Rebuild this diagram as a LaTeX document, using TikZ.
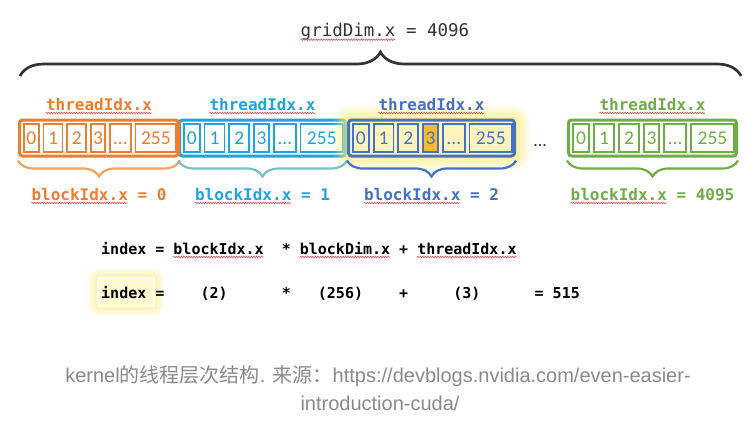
\documentclass[tikz,border=0pt]{standalone}
\usepackage{fontspec}
\usetikzlibrary{decorations.pathreplacing,decorations.pathmorphing}
\newfontfamily\mono{DejaVu Sans Mono}
\newfontfamily\cellfont{Carlito}
\newfontfamily\capfont{Liberation Sans}
\newfontfamily\cjk{Noto Sans CJK SC}
\definecolor{c0}{HTML}{ED7D31}
\definecolor{c0b}{HTML}{F3A35F}
\definecolor{c1}{HTML}{1EA4E0}
\definecolor{c1b}{HTML}{72C3C7}
\definecolor{c2}{HTML}{4472C4}
\definecolor{c3}{HTML}{70AD47}
\definecolor{hl}{HTML}{FBBA28}
\definecolor{pale}{HTML}{FFF4BC}
\definecolor{palehl}{HTML}{FFFAD2}
\definecolor{glow}{HTML}{FFEF70}
\definecolor{capc}{HTML}{8A8A8A}
\definecolor{ink}{HTML}{333333}
\definecolor{squigred}{HTML}{E0505A}
\tikzset{
  outerbox/.style={draw, line width=3pt, rounded corners=3pt, minimum height=36pt, inner sep=0pt},
  cell/.style={draw, line width=1.8pt, minimum height=28pt, inner sep=0pt, text height=12.5pt, text depth=0pt, font=\cellfont\fontsize{19.5}{21}\selectfont},
  lab/.style={inner sep=0pt, anchor=base, font=\mono\bfseries\fontsize{16}{18}\selectfont},
  eqline/.style={inner sep=0pt, anchor=base west, font=\mono\bfseries\fontsize{15}{18}\selectfont, text=black},
  squig/.style={draw=squigred, line width=0.6pt, decorate, decoration={snake, amplitude=0.8pt, segment length=2.5pt}},
  brc/.style={decorate, decoration={brace, amplitude=16pt, mirror}, line width=2.2pt},
  capt/.style={inner sep=0pt, anchor=base, text=capc, font=\capfont\fontsize{20}{24}\selectfont},
}
\newcommand\tblock[6]{%
  \pgfmathsetmacro\bL{#2}%
  \pgfmathsetmacro\bS{(#3-#2)/171}%
  \node[outerbox, draw=#4, fill=#5, minimum width={#3-#2-3}] (#1) at ({(#2+#3)/2},138) {};
  \foreach \sa/\ea/\lbl [count=\k] in {5/23/0,26/48/1,51/73/2,76/93/3,96/120/…,123/168/255}{%
    \ifnum\k=#6 \def\cf{hl}\else\def\cf{#5}\fi
    \node[cell, draw=#4, fill=\cf, text=#4, minimum width={(\ea-\sa)*\bS-1.8}] (#1c\k) at ({\bL+(\sa+\ea)/2*\bS},138) {\lbl};
  }%
}
\begin{document}
\begin{tikzpicture}[x=1pt, y=-1pt]
\useasboundingbox (0,0) rectangle (746,423);
\fill[white] (0,0) rectangle (746,423);
% grid brace and title
\coordinate (gL) at (20,76);
\coordinate (gR) at (741,76);
\draw[decorate, decoration={brace, amplitude=24pt}, line width=2.7pt, draw=ink] (gL) -- (gR);
\node[inner sep=0pt, anchor=base, text=ink, font=\mono\fontsize{17.5}{20}\selectfont] (title) at (385,36.7) {gridDim.x = 4096};
\draw[squig] ([yshift=-3pt]title.base west) -- ([yshift=-3pt, xshift=94.8pt]title.base west);
% blocks
\tblock{B1}{178}{347}{c1}{white}{0}
\tblock{B0}{18}{180}{c0}{white}{0}
\foreach \r/\o in {14/0.07,12/0.09,10/0.11,8/0.13,6/0.16,4/0.2,2/0.24}{
  \fill[glow, opacity=\o, rounded corners={\r+3}] ({347-\r},{119-\r}) rectangle ({516+\r},{157+\r});
}
\tblock{B2}{347}{516}{c2}{pale}{4}
\tblock{B3}{567}{738}{c3}{white}{0}
\node[inner sep=0pt, anchor=base, text=ink, font=\cellfont\fontsize{18}{20}\selectfont] (gap) at (540,146) {…};
% labels and braces
\coordinate (yT) at (0,110);
\coordinate (yB) at (0,200);
\foreach \b/\col/\bcol/\v in {B0/c0/c0b/0, B1/c1/c1b/1, B2/c2/c2/2, B3/c3/c3/4095}{
  \draw[brc, draw=\bcol] ([yshift=-3pt]\b.south west) -- ([yshift=-3pt]\b.south east);
  \node[lab, text=\col] (\b-t) at (\b.north |- yT) {threadIdx.x};
  \node[lab, text=\col] (\b-b) at (\b.south |- yB) {blockIdx.x = \v};
  \draw[squig] ([yshift=-3pt]\b-t.base west) -- ([yshift=-3pt, xshift=105.9pt]\b-t.base west);
  \draw[squig] ([yshift=-3pt]\b-b.base west) -- ([yshift=-3pt, xshift=96.3pt]\b-b.base west);
}
% equation
\node[eqline] (eq1) at (101,254) {index = blockIdx.x\ \ * blockDim.x + threadIdx.x};
\draw[squig] ([yshift=-3pt, xshift=72.2pt]eq1.base west) -- ([yshift=-3pt, xshift=162.5pt]eq1.base west);
\draw[squig] ([yshift=-3pt, xshift=198.7pt]eq1.base west) -- ([yshift=-3pt, xshift=289pt]eq1.base west);
\draw[squig] ([yshift=-3pt, xshift=316pt]eq1.base west) -- ([yshift=-3pt, xshift=415.4pt]eq1.base west);
\foreach \r/\o in {10/0.07,8/0.1,6/0.13,4/0.17,2/0.22}{
  \fill[glow, opacity=\o, rounded corners={\r+2}] ({97-\r},{277-\r}) rectangle ({155+\r},{307+\r});
}
\node[draw=white, line width=1.5pt, fill=palehl, minimum width=56pt, minimum height=28pt, inner sep=0pt] (hi) at (126,292) {};
\node[eqline] (eq2) at (101,298) {index =\ \ \ \ (2)\ \ \ \ \ \ *\ \ \ (256)\ \ \ \ +\ \ \ \ \ (3)\ \ \ \ \ \ = 515};
% caption
\node[capt] (cap1) at (378,382) {kernel{\cjk 的线程层次结构}. {\cjk 来源：}https://devblogs.nvidia.com/even-easier-};
\node[capt] (cap2) at (380,410) {introduction-cuda/};
\end{tikzpicture}
\end{document}
